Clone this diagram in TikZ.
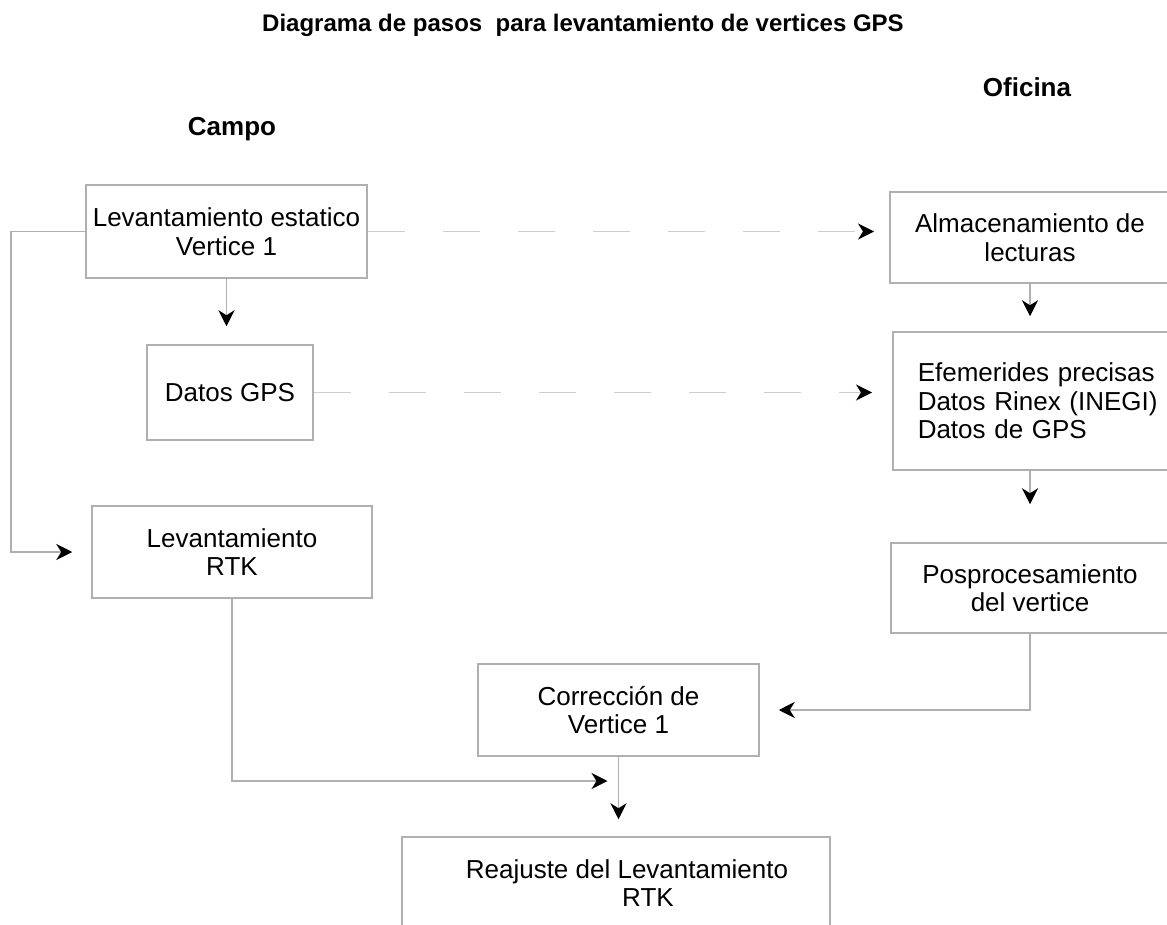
\documentclass[tikz,border=0pt]{standalone}
\usepackage{fontspec}
\setmainfont{Liberation Sans}
\usetikzlibrary{arrows.meta,calc}
\definecolor{boxgray}{HTML}{B0B0B0}
\definecolor{dashgray}{HTML}{CDCDCD}
\begin{document}
\begin{tikzpicture}[x=1pt,y=-1pt,
  stepbox/.style={draw=boxgray,line width=1.5pt,inner sep=0pt,align=center,
    font=\fontsize{26}{28.5}\selectfont},
  tip/.style={-{Stealth[length=16pt,width=16pt,inset=5pt,color=black]}},
  conn/.style={draw=boxgray,line width=1.5pt,tip},
  dconn/.style={draw=dashgray,line width=1.5pt,dash pattern=on 37pt off 38pt,tip},
  heading/.style={font=\fontsize{26}{30}\selectfont\bfseries,anchor=base}]
\useasboundingbox (0,0) rectangle (1167,925);
\clip (0,0) rectangle (1167,925);

\node[font=\fontsize{24}{28}\selectfont\bfseries,anchor=base] (title) at (583,32)
  {Diagrama de pasos\ \ para levantamiento de vertices GPS};
\node[heading] (campo) at (232,136) {Campo};
\node[heading] (oficina) at (1027,97) {Oficina};

% left column
\node[stepbox,minimum width=281pt,minimum height=93pt] (est) at (226.5,231.5)
  {Levantamiento estatico\\Vertice 1};
\node[stepbox,minimum width=166pt,minimum height=95pt] (datos) at (230,392.5)
  {Datos GPS};
\node[stepbox,minimum width=280pt,minimum height=92pt] (rtk) at (232,552)
  {Levantamiento\\RTK};

% right column
\node[stepbox,minimum width=280pt,minimum height=91pt] (alm) at (1030,237.5)
  {Almacenamiento de\\lecturas};
\node[stepbox,anchor=west,minimum height=138pt,align=left,
  text width=260pt,inner xsep=25pt] (efem) at (892,401)
  {Efemerides precisas\\Datos Rinex (INEGI)\\Datos de GPS};
\node[stepbox,minimum width=278pt,minimum height=90pt] (posp) at (1030,588)
  {Posprocesamiento\\del vertice};

% bottom
\node[stepbox,minimum width=281pt,minimum height=92pt] (corr) at (618.5,710)
  {Corrección de\\Vertice 1};
\node[stepbox,minimum width=428pt,minimum height=92pt] (reaj) at (616,883) {};
\node[align=center,inner sep=0pt,font=\fontsize{26}{28.5}\selectfont]
  (reajtxt) at ($(reaj.center)+(11,0)$) {Reajuste del Levantamiento\\\hspace*{42pt}RTK};

% connectors
\coordinate (xleft) at (11,0);
\coordinate (lc) at (rtk.west -| xleft);
\coordinate (mj) at (corr.south |- 0,781);

\draw[conn,shorten >=18pt] (est.south) -- (est.south |- datos.north);
\draw[conn,shorten >=19pt] (est.west) -| (lc) -- (rtk.west);
\draw[dconn,shorten >=18pt] (est.east) -- (est.east -| efem.west);
\draw[dconn,shorten >=20pt] (datos.east) -- (datos.east -| efem.west);
\draw[conn,shorten >=15pt] (alm.south) -- (alm.south |- efem.north);
\draw[conn,shorten >=38pt] (efem.south -| alm.south) -- (alm.south |- posp.north);
\draw[conn,shorten >=19pt] (posp.south) |- (corr.east);
\draw[conn,shorten >=11pt] (rtk.south) |- (mj);
\draw[conn,shorten >=17pt] (corr.south) -- (corr.south |- reaj.north);
\end{tikzpicture}
\end{document}
